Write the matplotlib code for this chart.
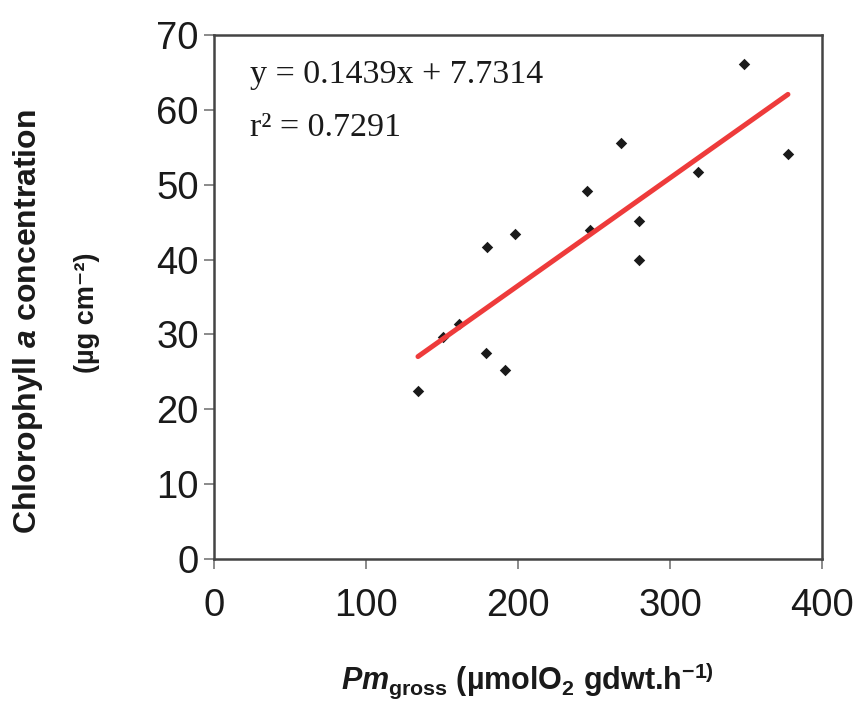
import matplotlib
matplotlib.use("Agg")
import matplotlib.pyplot as plt
import numpy as np

plt.rcParams['font.family'] = ['Liberation Sans', 'DejaVu Sans']
plt.rcParams['mathtext.fontset'] = 'custom'
plt.rcParams['mathtext.rm'] = 'Liberation Sans:bold'
plt.rcParams['mathtext.it'] = 'Liberation Sans:italic:bold'
plt.rcParams['mathtext.bf'] = 'Liberation Sans:bold'

# Data
pm_gross = [134.2, 178.9, 191.3, 179.4, 198.2, 245.6, 247.4, 268.0, 279.8, 279.8,
            318.2, 348.7, 377.6, 150.5, 161.4]
chl_a = [22.5, 27.5, 25.2, 41.7, 43.4, 49.1, 44.0, 55.6, 45.2, 40.0,
         51.7, 66.1, 54.1, 29.7, 31.4]
slope = 0.1439
intercept = 7.7314
r2 = 0.7291
x_ticks = [0, 100, 200, 300, 400]
y_ticks = [0, 10, 20, 30, 40, 50, 60, 70]

fig = plt.figure(figsize=(8.57, 7.03), dpi=100)
ax = fig.add_axes([214/857, 1-559/703, 608/857, 524/703])

ax.scatter(pm_gross, chl_a, marker='D', s=34, color='#1a1a1a', zorder=2, linewidths=0)
xs = np.array([min(pm_gross), max(pm_gross)])
ax.plot(xs, slope*xs + intercept, color='#ee3b3b', lw=3.6, solid_capstyle='round', zorder=3)

ax.set_xlim(0, 400)
ax.set_ylim(0, 70)
ax.set_xticks(x_ticks)
ax.set_yticks(y_ticks)
ax.tick_params(direction='out', length=7, width=1.2, color='#777777', labelsize=27.5,
               labelcolor='#1a1a1a')
ax.tick_params(axis='y', pad=4)
ax.tick_params(axis='x', pad=14)
for s in ax.spines.values():
    s.set_linewidth(1.8)
    s.set_color('#444444')

fig.text(250/857, 1-75/703, 'y = %.4fx + %.4f' % (slope, intercept), family='Liberation Serif',
         fontsize=24.5, va='center', ha='left', color='#1a1a1a')
fig.text(250/857, 1-128/703, 'r² = %.4f' % r2, family='Liberation Serif',
         fontsize=24.5, va='center', ha='left', color='#1a1a1a')

fig.text(28/857, 1-322/703, r'Chlorophyll $\mathit{a}$ concentration', rotation=90,
         fontsize=23, fontweight='bold', va='center', ha='center', color='#1a1a1a')
fig.text(87/857, 1-313/703, '(µg cm⁻²)', rotation=90,
         fontsize=19.5, fontweight='bold', va='center', ha='center', color='#1a1a1a')

fig.text(527/857, 1-681/703, r'$\mathit{Pm}_{\mathrm{gross}}$ (µmolO$_{\mathrm{2}}$ gdwt.h$^{\mathrm{-1)}}$',
         fontsize=22, fontweight='bold', va='center', ha='center', color='#1a1a1a')

fig.savefig('out.png', dpi=100)
